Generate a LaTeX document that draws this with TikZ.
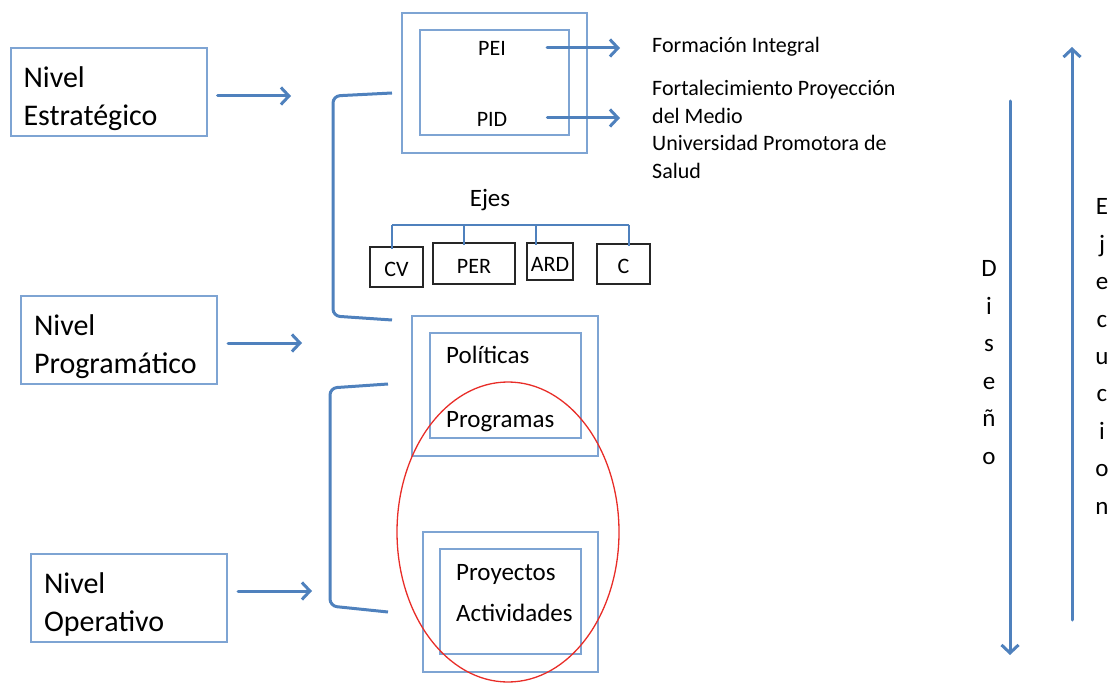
\documentclass[tikz,border=0pt]{standalone}
\usepackage{fontspec}
\setmainfont{Carlito}
\usepackage{tikz}
\usetikzlibrary{arrows.meta,positioning}
\definecolor{cajaAzul}{RGB}{126,164,211}
\definecolor{lineaAzul}{RGB}{79,129,189}
\definecolor{rojoElipse}{RGB}{232,45,40}
\tikzset{
        caja/.style={draw=cajaAzul, line width=2pt, inner sep=0pt},
        nivel/.style={caja, minimum width=196pt, minimum height=88pt, inner xsep=13pt,
            text width=170pt, align=flush left, font=\fontsize{30}{38}\selectfont},
        flecha/.style={draw=lineaAzul, line width=3pt, line cap=round,
            -{Straight Barb[length=8pt,width=17pt]}},
        llave/.style={draw=lineaAzul, line width=3pt, rounded corners=7pt},
        rama/.style={draw=lineaAzul, line width=2.8pt},
        eje/.style={draw=black!85, line width=1.3pt, inner sep=0pt, text height=20pt, text depth=0pt,
            font=\fontsize{22}{26}\selectfont},
        texto/.style={inner sep=0pt, font=\fontsize{22}{27.5}\selectfont},
        textoGrande/.style={inner sep=0pt, font=\fontsize{25}{30}\selectfont},
        letras/.style={inner sep=0pt, text width=24pt, align=center, font=\fontsize{25}{37.4}\selectfont}
    }
\begin{document}
\begin{tikzpicture}[x = 1pt, y = -1pt]
                \useasboundingbox (0,0) rectangle (1115,684);
                \node[nivel] (estrategico) at (108.5,92) {\rule{0pt}{34pt}Nivel\\Estratégico};
                \node[nivel] (programatico) at (119,340) {\rule{0pt}{34pt}Nivel\\Programático};
                \node[nivel] (operativo) at (129,598) {\rule{0pt}{34pt}Nivel\\Operativo};
                \coordinate (estrategicoFin) at (291,96);
                \coordinate (programaticoFin) at (302,343);
                \coordinate (operativoFin) at (312,591);
                \foreach \n in {estrategico,programatico,operativo}
                    \draw[flecha, shorten <=10pt] (\n.east |- \n Fin) -- (\n Fin);
                \draw[llave] (392,93) -- (333,96) -- (333,316) -- (392,320);
                \draw[llave] (388,384) -- (330,388) -- (330,606) -- (388,612);
                \node[caja, minimum width=185pt, minimum height=140pt] (peiExt) at (494.5,83) {};
                \node[caja, minimum width=149pt, minimum height=105pt] (peiInt) at (494.5,82.5) {};
                \node[texto, anchor=base] (pei) at (492,56) {PEI};
                \node[texto, anchor=base] (pid) at (492,127) {PID};
                \node[texto, anchor=base west] (formacion) at (652,53) {Formación Integral};
                \node[texto, anchor=base west, text width=270pt, align=flush left] (fortalecimiento) at (652,96)
                    {Fortalecimiento Proyección\\del Medio\\Universidad Promotora de\\Salud};
                \coordinate (peiFin) at (620,48);
                \coordinate (pidFin) at (620,118);
                \draw[flecha, shorten <=41pt] (pei.east |- peiFin) -- (peiFin);
                \draw[flecha, shorten <=40pt] (pid.east |- pidFin) -- (pidFin);
                \node[textoGrande, anchor=base] (ejes) at (490,207) {Ejes};
                \node[eje, minimum width=53pt, minimum height=40pt] (cv) at (396.5,267) {CV};
                \node[eje, minimum width=82pt, minimum height=41pt] (per) at (474,263.5) {PER};
                \node[eje, minimum width=46pt, minimum height=37pt] (ard) at (550,261.5) {ARD};
                \node[eje, minimum width=53pt, minimum height=40pt] (c) at (623.5,264) {C};
                \coordinate (t1) at (392,225);
                \coordinate (t2) at (464,225);
                \coordinate (t3) at (536,225);
                \coordinate (t4) at (629,225);
                \draw[rama] (t1) -- (t4);
                \foreach \t/\b in {t1/cv,t2/per,t3/ard,t4/c}
                    \draw[rama] (\t) -- ([yshift=-3pt]\t |- \b.north);
                \node[caja, minimum width=186pt, minimum height=140pt] (politicasExt) at (505,386) {};
                \node[caja, minimum width=151pt, minimum height=105pt] (politicasInt) at (505.5,385.5) {};
                \node[textoGrande, anchor=base west] (politicas) at (446,363) {Políticas};
                \node[textoGrande, anchor=base west] (programas) at (446,427) {Programas};
                \node[caja, minimum width=175pt, minimum height=140pt] (proyectosExt) at (510.5,602) {};
                \node[caja, minimum width=141pt, minimum height=105pt] (proyectosInt) at (510.5,601.5) {};
                \node[textoGrande, anchor=base west] (proyectos) at (456,580) {Proyectos};
                \node[textoGrande, anchor=base west] (actividades) at (456,621) {Actividades};
                \draw[rojoElipse, line width=1.3pt] (508,532) ellipse [x radius=111pt, y radius=150pt];
                \coordinate (disenoIni) at (1010,101);
                \coordinate (disenoFin) at (1010,655);
                \coordinate (ejecucionIni) at (1072,620);
                \coordinate (ejecucionFin) at (1072,47);
                \draw[flecha] (disenoIni) -- (disenoFin);
                \draw[flecha] (ejecucionIni) -- (ejecucionFin);
                \node[letras, anchor=base] (diseno) at (989,277) {D\\i\\s\\e\\ñ\\o};
                \node[letras, anchor=base] (ejecucion) at (1102,215) {E\\j\\e\\c\\u\\c\\i\\o\\n};
            \end{tikzpicture}
\end{document}
